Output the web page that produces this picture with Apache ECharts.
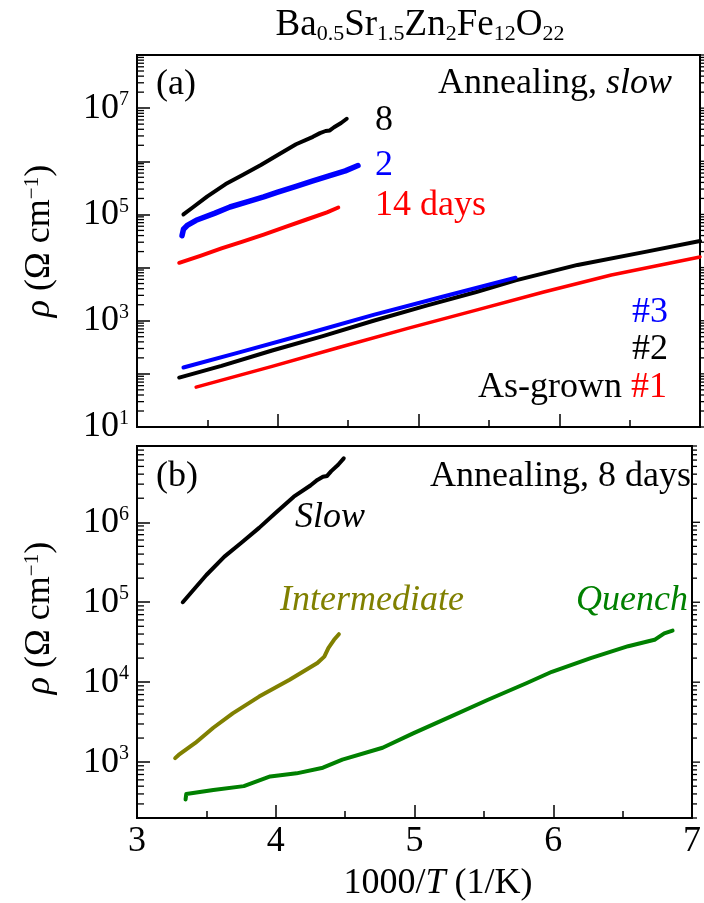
<!DOCTYPE html>
<html><head><meta charset="utf-8">
<script src="https://cdn.jsdelivr.net/npm/echarts@6/dist/echarts.min.js"></script>
<style>html,body{margin:0;padding:0;background:#fff}#c{width:704px;height:903px}</style>
</head><body><div id="c"></div>
<script>
// ---------- data (1000/T in 1/K, rho in Ohm cm) ----------
const slow8X   = [3.33, 3.40, 3.50, 3.63, 3.75, 3.88, 4.00, 4.13, 4.25, 4.30, 4.34, 4.37, 4.40, 4.45, 4.49];
const slow8Rho = [100000, 138000, 219000, 372000, 550000, 851000, 1318000, 2089000, 2884000, 3388000, 3715000, 3802000, 4365000, 5248000, 6310000];
const slow2X   = [3.32, 3.33, 3.36, 3.42, 3.55, 3.66, 3.80, 3.90, 4.00, 4.13, 4.25, 4.37, 4.48, 4.57];
const slow2Rho = [39800, 52500, 63100, 77600, 104700, 138000, 177800, 213800, 263000, 338800, 426600, 537000, 660700, 831800];
const slow14X   = [3.30, 3.45, 3.60, 3.75, 3.90, 4.05, 4.20, 4.35, 4.43];
const slow14Rho = [12300, 16600, 22900, 30900, 41700, 57500, 79400, 109600, 134900];
const ag1X   = [3.42, 3.96, 4.44, 4.93, 5.41, 5.89, 6.37, 7.00];
const ag1Rho = [56.2, 138, 316, 724, 1585, 3467, 7244, 15850];
const ag2X   = [3.30, 3.60, 3.96, 4.32, 4.68, 5.05, 5.41, 5.69, 6.13, 6.62, 7.00];
const ag2Rho = [85.1, 141, 275, 513, 1000, 1905, 3467, 5754, 11220, 19950, 31620];
const ag3X   = [3.33, 3.72, 4.20, 4.68, 5.17, 5.69];
const ag3Rho = [131.8, 251.2, 562.3, 1288, 2818, 6457];
const interX   = [3.275, 3.30, 3.42, 3.55, 3.69, 3.88, 4.10, 4.30, 4.35, 4.38, 4.42, 4.455];
const interRho = [1122, 1230, 1738, 2692, 4074, 6607, 10720, 17380, 20890, 26920, 33880, 39810];
const quenchX   = [3.35, 3.355, 3.55, 3.77, 3.96, 4.15, 4.34, 4.48, 4.77, 4.99, 5.26, 5.53, 5.81, 5.99, 6.27, 6.54, 6.73, 6.80, 6.86];
const quenchRho = [340, 400, 447, 501, 661, 724, 851, 1072, 1514, 2291, 3715, 6026, 9772, 13490, 19950, 28180, 33880, 40740, 44160];

// ---------- ticks ----------
const xTickLabels = [3, 4, 5, 6, 7];
const topYLabelExps = [1, 3, 5, 7];
const botYLabelExps = [3, 4, 5, 6];
const topDecades = [0, 1, 2, 3, 4, 5, 6, 7, 8];
const botDecades = [2, 3, 4, 5, 6];

const FONT = '"Liberation Serif", "Times New Roman", serif';
const pairs = (xs, ys) => xs.map((x, i) => [x, ys[i]]);

function minorTickData(decades, lo, hi) {
  const out = [];
  decades.forEach(e => {
    for (let k = 1; k <= 9; k++) {
      const v = k * Math.pow(10, e);
      if (v >= lo && v <= hi) out.push([3, v, k === 1 ? 1 : 0]);
    }
  });
  return out;
}

function tickRender(params, api) {
  const v = api.value(1);
  const major = api.value(2) === 1;
  const l = api.coord([3, v]);
  const r = api.coord([7, v]);
  const items = [];
  if (!major) items.push({type: 'line', shape: {x1: l[0], y1: l[1], x2: l[0] + 7, y2: l[1]}, style: {stroke: '#000', lineWidth: 1.3}});
  items.push({type: 'line', shape: {x1: r[0], y1: r[1], x2: r[0] + (major ? 8 : 5), y2: r[1]}, style: {stroke: '#000', lineWidth: 1.3}});
  return {type: 'group', children: items};
}

function yLabelFmt(exps) {
  return function (v) {
    const lg = Math.log10(v);
    const e = Math.round(lg);
    if (Math.abs(lg - e) > 1e-6) return '';
    if (exps.indexOf(e) < 0) return '';
    return '{b|10}{s|' + e + '}';
  };
}
const yRich = {
  b: {fontSize: 36, fontFamily: FONT, color: '#000', lineHeight: 36},
  s: {fontSize: 20, fontFamily: FONT, color: '#000', lineHeight: 26, verticalAlign: 'top'}
};

const axisLineStyle = {show: true, lineStyle: {color: '#000', width: 2}};

function xAxis(grid, labels) {
  return {
    type: 'value', gridIndex: grid, min: 3, max: 7, interval: 1,
    axisLine: axisLineStyle,
    axisTick: {show: true, inside: true, length: 13, lineStyle: {color: '#000', width: 1.5}},
    minorTick: {show: true, splitNumber: 2, length: 7, lineStyle: {color: '#000', width: 1.5}},
    splitLine: {show: false}, minorSplitLine: {show: false},
    axisLabel: {
      show: labels, margin: 6, color: '#000', fontFamily: FONT, fontSize: 36,
      formatter: v => (xTickLabels.indexOf(v) >= 0 ? String(v) : '')
    }
  };
}

function yAxis(grid, min, max, exps, interval) {
  const a = {
    type: 'log', logBase: 10, gridIndex: grid, min: min, max: max,
    axisLine: axisLineStyle,
    axisTick: {show: true, inside: true, length: 13, lineStyle: {color: '#000', width: 1.5}},
    splitLine: {show: false},
    axisLabel: {margin: 8, formatter: yLabelFmt(exps), rich: yRich, showMinLabel: true, showMaxLabel: true, hideOverlap: false}
  };
  if (interval) a.interval = interval;
  return a;
}

function line(name, xs, ys, color, width, xi) {
  return {
    name: name, type: 'line', xAxisIndex: xi, yAxisIndex: xi,
    data: pairs(xs, ys), showSymbol: false, symbol: 'none', smooth: false,
    lineStyle: {color: color, width: width, cap: 'round', join: 'round'},
    silent: true, z: 3
  };
}

function txt(text, x, y, align, color, extra) {
  return {
    type: 'text', z: 100,
    style: Object.assign({
      text: text, x: x, y: y, fill: color || '#000',
      font: '36px ' + FONT, textAlign: align || 'left', textVerticalAlign: 'middle'
    }, extra || {})
  };
}

const chart = echarts.init(document.getElementById('c'), null, {renderer: 'canvas'});

const subRich = {
  m: {fontSize: 37, fontFamily: FONT, fill: '#000', lineHeight: 40},
  d: {fontSize: 22, fontFamily: FONT, fill: '#000', lineHeight: 20, verticalAlign: 'bottom'}
};
const yTitleRich = {
  i: {fontSize: 36, fontFamily: FONT, fontStyle: 'italic', fill: '#000', lineHeight: 36},
  m: {fontSize: 36, fontFamily: FONT, fill: '#000', lineHeight: 36},
  s: {fontSize: 21, fontFamily: FONT, fill: '#000', lineHeight: 20, verticalAlign: 'top'}
};
const mixRich = {
  m: {fontSize: 36, fontFamily: FONT, fill: '#000'},
  i: {fontSize: 36, fontFamily: FONT, fontStyle: 'italic', fill: '#000'},
  r: {fontSize: 36, fontFamily: FONT, fill: '#ff0000'}
};

chart.setOption({
  animation: false,
  backgroundColor: '#fff',
  grid: [
    {left: 137, right: 4, top: 55, height: 372, show: true, borderColor: '#000', borderWidth: 2, backgroundColor: 'transparent'},
    {left: 137, right: 4, top: 446, height: 372, show: true, borderColor: '#000', borderWidth: 2, backgroundColor: 'transparent'}
  ],
  xAxis: [xAxis(0, false), xAxis(1, true)],
  yAxis: [yAxis(0, 10, 1e8, topYLabelExps, 1), yAxis(1, 200, 9e6, botYLabelExps, null)],
  series: [
    {type: 'custom', xAxisIndex: 0, yAxisIndex: 0, data: minorTickData(topDecades, 10, 1e8), renderItem: tickRender, silent: true, clip: false, z: 5},
    {type: 'custom', xAxisIndex: 1, yAxisIndex: 1, data: minorTickData(botDecades, 200, 9e6), renderItem: tickRender, silent: true, clip: false, z: 5},
    line('slow 8 days', slow8X, slow8Rho, '#000000', 4, 0),
    line('slow 2 days', slow2X, slow2Rho, '#0000ff', 5.5, 0),
    line('slow 14 days', slow14X, slow14Rho, '#ff0000', 4, 0),
    line('as-grown #1', ag1X, ag1Rho, '#ff0000', 3.5, 0),
    line('as-grown #2', ag2X, ag2Rho, '#000000', 4, 0),
    line('as-grown #3', ag3X, ag3Rho, '#0000ff', 4, 0),
    line('Slow', slow8X, slow8Rho, '#000000', 4, 1),
    line('Intermediate', interX, interRho, '#808000', 4, 1),
    line('Quench', quenchX, quenchRho, '#008000', 4, 1)
  ],
  graphic: [
    {type: 'text', z: 100, style: {
      text: '{m|Ba}{d|0.5}{m|Sr}{d|1.5}{m|Zn}{d|2}{m|Fe}{d|12}{m|O}{d|22}',
      x: 420, y: 25, textAlign: 'center', textVerticalAlign: 'middle', rich: subRich}},
    txt('(a)', 156, 85, 'left'),
    {type: 'text', z: 100, style: {text: '{m|Annealing, }{i|slow}', x: 672, y: 84, textAlign: 'right', textVerticalAlign: 'middle', rich: mixRich}},
    txt('8', 375, 121, 'left', '#000'),
    txt('2', 375, 166, 'left', '#0000ff'),
    txt('14 days', 375, 206, 'left', '#ff0000'),
    txt('#3', 668, 313, 'right', '#0000ff'),
    txt('#2', 668, 350, 'right', '#000'),
    {type: 'text', z: 100, style: {text: '{m|As-grown }{r|#1}', x: 667, y: 388, textAlign: 'right', textVerticalAlign: 'middle', rich: mixRich}},
    txt('(b)', 156, 477, 'left'),
    txt('Annealing, 8 days', 691, 477, 'right'),
    txt('Slow', 295, 518, 'left', '#000', {font: 'italic 36px ' + FONT}),
    txt('Intermediate', 280, 601, 'left', '#808000', {font: 'italic 36px ' + FONT}),
    txt('Quench', 576, 601, 'left', '#008000', {font: 'italic 36px ' + FONT}),
    {type: 'text', z: 100, x: 40, y: 241, rotation: Math.PI / 2, style: {
      text: '{i|ρ}{m| (Ω cm}{s|−1}{m|)}', x: 0, y: 0, textAlign: 'center', textVerticalAlign: 'middle', rich: yTitleRich}},
    {type: 'text', z: 100, x: 40, y: 618, rotation: Math.PI / 2, style: {
      text: '{i|ρ}{m| (Ω cm}{s|−1}{m|)}', x: 0, y: 0, textAlign: 'center', textVerticalAlign: 'middle', rich: yTitleRich}},
    {type: 'text', z: 100, style: {
      text: '{m|1000/}{i|T}{m| (1/K)}', x: 438, y: 884, textAlign: 'center', textVerticalAlign: 'middle', rich: mixRich}}
  ]
});
</script>
</body></html>
